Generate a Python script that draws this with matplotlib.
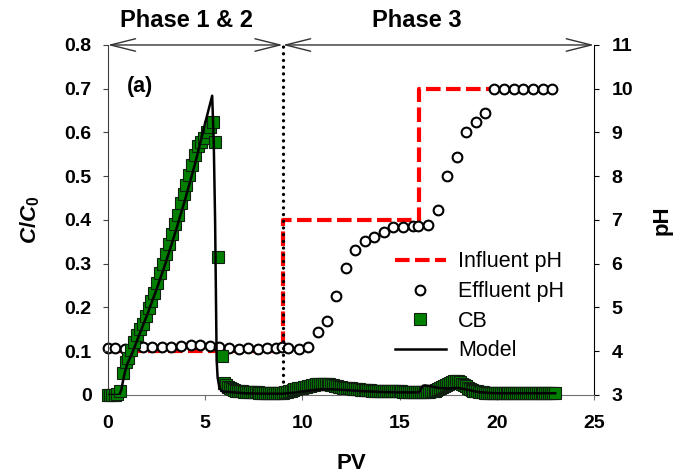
import matplotlib
matplotlib.use("Agg")
import matplotlib.pyplot as plt
from matplotlib import rcParams

rcParams['font.family'] = ['Liberation Sans', 'DejaVu Sans']
rcParams['mathtext.fontset'] = 'custom'
rcParams['mathtext.it'] = 'Liberation Sans:italic:bold'
rcParams['mathtext.rm'] = 'Liberation Sans:bold'

# CB breakthrough (C/C0 vs PV)
cb_pv = [0.0, 0.1, 0.2, 0.35, 0.5, 0.65, 0.8, 0.95, 1.05, 1.2, 1.35, 1.5, 1.65, 1.8, 1.95,
         2.1, 2.25, 2.4, 2.55, 2.7, 2.85, 3.0, 3.15, 3.3, 3.45, 3.6, 3.75, 3.9, 4.05, 4.2,
         4.35, 4.5, 4.65, 4.8, 4.95, 5.1, 5.25, 5.4, 5.52, 5.68, 5.88,
         6.0, 6.1, 6.2, 6.3, 6.4, 6.5, 6.6, 6.7, 6.8, 6.9,
         7.0, 7.1, 7.2, 7.3, 7.4, 7.5, 7.6, 7.7, 7.8, 7.9,
         8.0, 8.1, 8.2, 8.3, 8.4, 8.5, 8.6, 8.7, 8.8, 8.9,
         9.0, 9.1, 9.2, 9.3, 9.4, 9.5, 9.6, 9.7, 9.8, 9.9,
         10.0, 10.1, 10.2, 10.3, 10.4, 10.5, 10.6, 10.7, 10.8, 10.9,
         11.0, 11.1, 11.2, 11.3, 11.4, 11.5, 11.6, 11.7, 11.8, 11.9,
         12.0, 12.1, 12.2, 12.3, 12.4, 12.5, 12.6, 12.7, 12.8, 12.9,
         13.0, 13.1, 13.2, 13.3, 13.4, 13.5, 13.6, 13.7, 13.8, 13.9,
         14.0, 14.1, 14.2, 14.3, 14.4, 14.5, 14.6, 14.7, 14.8, 14.9,
         15.0, 15.1, 15.2, 15.3, 15.4, 15.5, 15.6, 15.7, 15.8, 15.9,
         16.0, 16.1, 16.2, 16.3, 16.4, 16.5, 16.6, 16.7, 16.8, 16.9,
         17.0, 17.1, 17.2, 17.3, 17.4, 17.5, 17.6, 17.7, 17.8, 17.9,
         18.0, 18.1, 18.2, 18.3, 18.4, 18.5, 18.6, 18.7, 18.8, 18.9,
         19.0, 19.1, 19.2, 19.3, 19.4, 19.5, 19.6, 19.7, 19.8, 19.9,
         20.0, 20.1, 20.2, 20.3, 20.4, 20.5, 20.6, 20.7, 20.8, 20.9,
         21.0, 21.1, 21.2, 21.3, 21.4, 21.5, 21.6, 21.7, 21.8, 21.9,
         22.0, 22.1, 22.2, 22.3, 22.4, 22.5, 22.6, 22.7, 22.8, 22.9, 23.0]
cb_c = [0.0, 0.0, 0.0, 0.0, 0.002, 0.008, 0.05, 0.075, 0.085, 0.103, 0.122, 0.138, 0.15, 0.162, 0.18,
        0.198, 0.215, 0.232, 0.255, 0.278, 0.3, 0.322, 0.345, 0.368, 0.39, 0.412, 0.438, 0.46, 0.48, 0.503,
        0.525, 0.548, 0.568, 0.578, 0.588, 0.6, 0.612, 0.625, 0.578, 0.316, 0.088,
        0.028, 0.022, 0.019, 0.016, 0.013, 0.011, 0.010, 0.009, 0.008, 0.008,
        0.007, 0.007, 0.007, 0.006, 0.006, 0.006, 0.006, 0.006, 0.005, 0.005,
        0.005, 0.005, 0.005, 0.005, 0.005, 0.005, 0.005, 0.005, 0.005, 0.005,
        0.005, 0.006, 0.007, 0.008, 0.010, 0.012, 0.013, 0.014, 0.015, 0.016,
        0.017, 0.018, 0.019, 0.020, 0.021, 0.022, 0.023, 0.024, 0.024, 0.025,
        0.025, 0.025, 0.025, 0.024, 0.024, 0.023, 0.022, 0.021, 0.020, 0.019,
        0.018, 0.017, 0.016, 0.016, 0.015, 0.015, 0.014, 0.014, 0.013, 0.013,
        0.012, 0.012, 0.012, 0.011, 0.011, 0.011, 0.010, 0.010, 0.010, 0.010,
        0.009, 0.009, 0.009, 0.009, 0.009, 0.008, 0.008, 0.008, 0.008, 0.008,
        0.008, 0.008, 0.007, 0.007, 0.007, 0.007, 0.007, 0.007, 0.007, 0.007,
        0.007, 0.007, 0.007, 0.007, 0.007, 0.007, 0.008, 0.009, 0.010, 0.012,
        0.014, 0.016, 0.018, 0.020, 0.023, 0.026, 0.028, 0.030, 0.031, 0.032,
        0.031, 0.029, 0.026, 0.023, 0.020, 0.017, 0.014, 0.012, 0.010, 0.009,
        0.008, 0.007, 0.006, 0.006, 0.005, 0.005, 0.005, 0.005, 0.005, 0.005,
        0.005, 0.005, 0.005, 0.005, 0.005, 0.005, 0.005, 0.005, 0.005, 0.005,
        0.005, 0.005, 0.005, 0.005, 0.005, 0.005, 0.005, 0.005, 0.005, 0.005,
        0.005, 0.005, 0.005, 0.005, 0.005, 0.005, 0.005, 0.005, 0.005, 0.005, 0.005]

# model curve
model_pv = [0.0, 0.6, 0.7, 0.8, 0.9, 1.0, 1.3, 1.6, 2.0, 2.5, 3.0, 3.5, 4.0, 4.5, 5.0, 5.37,
            5.45, 5.52, 5.57, 5.6, 5.65, 5.75, 5.9, 6.5, 7.0, 8.0, 9.0, 9.5, 10.0, 10.5, 11.0,
            11.5, 12.0, 13.0, 14.0, 15.0, 16.0, 16.1, 16.2, 16.3, 16.6, 17.0, 17.5, 18.0, 18.5,
            19.0, 19.5, 20.0, 21.0, 22.0, 23.0]
model_c = [0.0, 0.0, 0.012, 0.035, 0.055, 0.07, 0.1, 0.135, 0.18, 0.24, 0.305, 0.375, 0.45, 0.53, 0.62, 0.684,
           0.58, 0.4, 0.2, 0.08, 0.04, 0.015, 0.008, 0.006, 0.004, 0.003, 0.003, 0.005, 0.008, 0.011, 0.013,
           0.013, 0.012, 0.009, 0.007, 0.006, 0.006, 0.014, 0.021, 0.022, 0.02, 0.016, 0.015, 0.016, 0.012,
           0.007, 0.005, 0.004, 0.004, 0.004, 0.004]

# influent pH steps
inf_pv = [0, 9, 9, 16, 16, 22.85]
inf_ph = [4, 4, 7, 7, 10, 10]

# effluent pH
eff_pv = [0.02, 0.36, 0.87, 1.3, 1.81, 2.3, 2.79, 3.27, 3.79, 4.27, 4.76, 5.25, 5.73, 6.24,
          6.74, 7.2, 7.7, 8.19, 8.67, 8.98, 9.29, 9.82, 10.3, 10.8, 11.25, 11.76, 12.24, 12.72,
          13.2, 13.7, 14.2, 14.68, 15.16, 15.67, 15.97, 16.46, 16.96, 17.45, 17.93, 18.42,
          18.93, 19.41, 19.87, 20.37, 20.87, 21.37, 21.86, 22.36, 22.84]
eff_ph = [4.07, 4.07, 4.05, 4.1, 4.1, 4.1, 4.1, 4.1, 4.12, 4.15, 4.15, 4.12, 4.1, 4.08,
          4.06, 4.08, 4.06, 4.08, 4.08, 4.1, 4.08, 4.05, 4.1, 4.45, 4.69, 5.27, 5.9, 6.31,
          6.53, 6.62, 6.73, 6.83, 6.85, 6.86, 6.86, 6.89, 7.23, 8.0, 8.45, 9.0,
          9.24, 9.45, 10, 10, 10, 10, 10, 10, 10]

x_ticks = [0, 5, 10, 15, 20, 25]
c_ticks = [0, 0.1, 0.2, 0.3, 0.4, 0.5, 0.6, 0.7, 0.8]
c_labels = ['0', '0.1', '0.2', '0.3', '0.4', '0.5', '0.6', '0.7', '0.8']
ph_ticks = [3, 4, 5, 6, 7, 8, 9, 10, 11]

fig = plt.figure(figsize=(6.86, 4.74), dpi=100)
ax = fig.add_axes([0.157, 0.1667, 0.709, 0.7384])
ax2 = ax.twinx()
ax.set_zorder(ax2.get_zorder() + 1)
ax.patch.set_visible(False)

# pH on the right axis
l_inf, = ax2.plot(inf_pv, inf_ph, color='#ff0000', lw=3, dashes=(3.5, 1.3),
                  label='Influent pH')
l_eff, = ax2.plot(eff_pv, eff_ph, ls='none', marker='o', ms=7, mfc='white',
                  mec='black', mew=1.5, label='Effluent pH', clip_on=False)

# C/C0 on the left axis
ax.plot([9, 9], [0, 0.8], color='black', lw=2.4, linestyle=(0, (0.01, 2.0)),
        dash_capstyle='round', zorder=2)
l_cb, = ax.plot(cb_pv, cb_c, ls='none', marker='s', ms=8, mfc='#008000',
                mec='#102010', mew=0.8, label='CB', zorder=3, clip_on=False)
l_mod, = ax.plot(model_pv, model_c, color='black', lw=1.8, label='Model', zorder=4)

ax.set_xlim(0, 25)
ax.set_ylim(0, 0.8)
ax2.set_ylim(3, 11)
ax.set_xticks(x_ticks)
ax.set_xticklabels([str(t) for t in x_ticks])
ax.set_yticks(c_ticks)
ax.set_yticklabels(c_labels)
ax2.set_yticks(ph_ticks)
ax2.set_yticklabels([str(t) for t in ph_ticks])

for a in (ax, ax2):
    a.spines['top'].set_visible(False)
ax.spines['right'].set_visible(False)
ax2.spines['left'].set_visible(False)
ax2.spines['bottom'].set_visible(False)
ax.spines['left'].set_color('#404040')
ax.spines['bottom'].set_color('#707070')
ax2.spines['right'].set_color('black')

ax.tick_params(axis='y', direction='out', length=3.6, width=0.8, pad=8,
               labelsize=14, colors='#404040', labelcolor='black')
ax.tick_params(axis='x', direction='out', length=3.6, width=0.8, pad=11,
               labelsize=14, colors='#707070', labelcolor='black')
ax2.tick_params(axis='y', direction='out', length=3.6, width=0.8, pad=9, labelsize=14)
for lab in ax.get_xticklabels() + ax.get_yticklabels() + ax2.get_yticklabels():
    lab.set_fontweight('bold')

ax.set_xlabel('PV', fontsize=16, fontweight='bold')
ax.set_ylabel(r'$C/C_0$', fontsize=16)
ax2.set_ylabel('pH', fontsize=16, fontweight='bold')
ax.xaxis.set_label_coords(0.5, -0.165)
ax.yaxis.set_label_coords(-0.135, 0.5)
ax2.yaxis.set_label_coords(1.118, 0.5)

ax.text(0.98, 0.704, '(a)', fontsize=15.5, fontweight='bold', va='center', ha='left')

# phase arrows along the top edge
arrow_kw = dict(arrowstyle='<->, head_length=1.8, head_width=0.45', color='#333333',
                lw=1, shrinkA=0, shrinkB=0)
ax.annotate('', xy=(0, 0.8), xytext=(9, 0.8), arrowprops=arrow_kw, annotation_clip=False)
ax.annotate('', xy=(9, 0.8), xytext=(25, 0.8), arrowprops=arrow_kw, annotation_clip=False)
ax.text(4.05, 0.856, 'Phase 1 & 2', fontsize=17, fontweight='bold', ha='center', va='center')
ax.text(15.9, 0.856, 'Phase 3', fontsize=17, fontweight='bold', ha='center', va='center')

ax.legend([l_inf, l_eff, l_cb, l_mod], ['Influent pH', 'Effluent pH', 'CB', 'Model'],
          loc='upper left', bbox_to_anchor=(0.59, 0.41), frameon=False, fontsize=15.5,
          numpoints=1, handlelength=2.4, handletextpad=0.55, labelspacing=0.4,
          borderpad=0, borderaxespad=0)

plt.savefig('out.png', dpi=100)
